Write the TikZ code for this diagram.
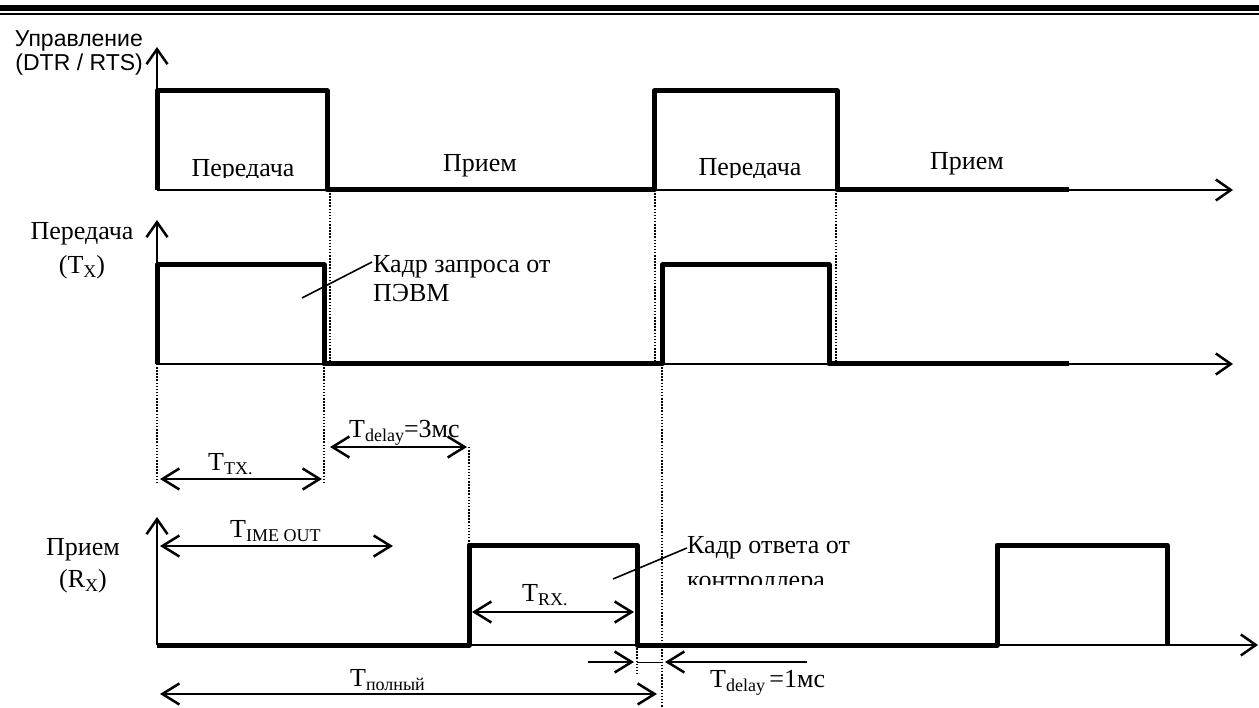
\documentclass[tikz,border=0pt]{standalone}
\usepackage{fontspec}
\setmainfont{Liberation Serif}
\newfontfamily\arialf{Liberation Sans}
\usetikzlibrary{arrows.meta}
\newcommand\Tsb[1]{T\raisebox{-4pt}{\fontsize{18}{18}\selectfont #1}}
\tikzset{
  sig/.style={line width=5pt, line join=round},
  axis/.style={line width=2pt, -{Straight Barb[length=15pt,width=21pt,line width=2.5pt]}},
  dimarr/.style={line width=2.5pt, {Straight Barb[length=17pt,width=21pt]}-{Straight Barb[length=17pt,width=21pt]}},
  onearr/.style={line width=2.5pt, -{Straight Barb[length=17pt,width=21pt]}},
  vdots/.style={line width=1.5pt, dash pattern=on 1.5pt off 1.6pt},
  lbl/.style={font=\fontsize{26}{30}\selectfont, inner sep=0pt},
  slbl/.style={font=\arialf\fontsize{23}{27}\selectfont, inner sep=0pt},
  leader/.style={line width=1.6pt}
}
\begin{document}
\begin{tikzpicture}[x=1pt,y=-1pt]
\useasboundingbox (0,0) rectangle (1259,708);
\fill[white] (0,0) rectangle (1259,708);
% top border
\draw[line width=6pt] (0,8) -- (1259,8);
\draw[line width=2pt] (0,13.8) -- (1259,13.8);

% ---------- row 1: control ----------
\coordinate (o1) at (157,190);
\coordinate (y1) at (157,47);
\coordinate (x1) at (1233,190);
\draw[axis] (o1) -- (y1);
\draw[axis] (o1) -- (x1);
\draw[sig] (o1) -- (157,91) -- (327,91) -- (327,190) -- (654,190) -- (654,91) -- (837,91) -- (837,190) -- (1069,190);
\node[slbl, anchor=base east] (ctl1) at (143,47) {Управление};
\node[slbl, anchor=base east] (ctl2) at (143,71) {(DTR / RTS)};
\begin{scope}
\clip (160,100) rectangle (1100,178);
\node[lbl, anchor=base] (tx1) at (243,177) {Передача};
\node[lbl, anchor=base] (tx2) at (750,176) {Передача};
\end{scope}
\node[lbl, anchor=base] (rx1) at (480,172) {Прием};
\node[lbl, anchor=base] (rx2) at (967,170) {Прием};

% ---------- row 2: Tx ----------
\coordinate (o2) at (157,364);
\coordinate (y2) at (157,220);
\coordinate (x2) at (1233,364);
\draw[axis] (o2) -- (y2);
\draw[axis] (o2) -- (x2);
\draw[sig] (o2) -- (157,265) -- (324,265) -- (324,364) -- (662,364) -- (662,265) -- (829,265) -- (829,364) -- (1069,364);
\node[lbl, anchor=base] (txl1) at (82,240) {Передача};
\node[lbl, anchor=base] (txl2) at (82,274) {(\Tsb{X})};
\node[lbl, anchor=base west] (kz1) at (373,273) {Кадр запроса от};
\node[lbl, anchor=base west] (kz2) at (373,302) {ПЭВМ};
\coordinate (ld1a) at (302,298);
\coordinate (ld1b) at (372,262);
\draw[leader] (ld1a) -- (ld1b);

% ---------- row 3: Rx ----------
\coordinate (o3) at (157,645);
\coordinate (y3) at (157,517);
\coordinate (x3) at (1258,645);
\draw[axis] (o3) -- (y3);
\draw[axis] (o3) -- (x3);
\draw[sig] (o3) -- (469,645) -- (469,545) -- (637,545) -- (637,645) -- (997,645) -- (997,545) -- (1167,545) -- (1167,645);
\node[lbl, anchor=base] (rxl1) at (83,555) {Прием};
\node[lbl, anchor=base] (rxl2) at (83,587) {(R\raisebox{-4pt}{\fontsize{18}{18}\selectfont X})};
\node[lbl, anchor=base west] (ko1) at (687,553) {Кадр ответа от};
\begin{scope}
\clip (680,560) rectangle (900,584);
\node[lbl, anchor=base west] (ko2) at (687,588) {контроллера};
\end{scope}
\coordinate (ld2a) at (613,579);
\coordinate (ld2b) at (687,548);
\draw[leader] (ld2a) -- (ld2b);

% ---------- dotted guides ----------
\draw[vdots] (330,190) -- (330,364);
\draw[vdots] (324,364) -- (324,483);
\draw[vdots] (157,364) -- (157,483);
\draw[vdots] (655,190) -- (655,364);
\draw[vdots] (662,364) -- (662,708);
\draw[vdots] (836,190) -- (836,364);
\draw[vdots] (469,447) -- (469,545);
\draw[vdots] (637,645) -- (637,676);

% ---------- dimensions ----------
\coordinate (ttxL) at (160,479); \coordinate (ttxR) at (322,479);
\draw[dimarr] (ttxL) -- (ttxR);
\node[lbl, anchor=base west] (ttx) at (208,471) {\Tsb{TX.}};

\coordinate (td3L) at (330,447); \coordinate (td3R) at (467,447);
\draw[dimarr] (td3L) -- (td3R);
\node[lbl, anchor=base west] (td3) at (349,438) {\Tsb{delay}=3мс};

\coordinate (toL) at (160,546); \coordinate (toR) at (393,546);
\draw[dimarr] (toL) -- (toR);
\node[lbl, anchor=base west] (tout) at (230,537) {\Tsb{IME OUT}};

\coordinate (trxL) at (472,612); \coordinate (trxR) at (634,612);
\draw[dimarr] (trxL) -- (trxR);
\node[lbl, anchor=base west] (trx) at (522,601) {\Tsb{RX.}};

\coordinate (tpL) at (160,694); \coordinate (tpR) at (657,694);
\draw[dimarr] (tpL) -- (tpR);
\node[lbl, anchor=base west] (tpol) at (350,686) {\Tsb{полный}};

\coordinate (td1a) at (588,662); \coordinate (td1b) at (634,662);
\coordinate (td1c) at (807,662); \coordinate (td1d) at (665,662);
\draw[onearr] (td1a) -- (td1b);
\draw[onearr] (td1c) -- (td1d);
\draw[line width=1pt] (637,662) -- (662,662);
\node[lbl, anchor=base west] (td1) at (710,687) {\Tsb{delay}\,=1мс};
\end{tikzpicture}
\end{document}
